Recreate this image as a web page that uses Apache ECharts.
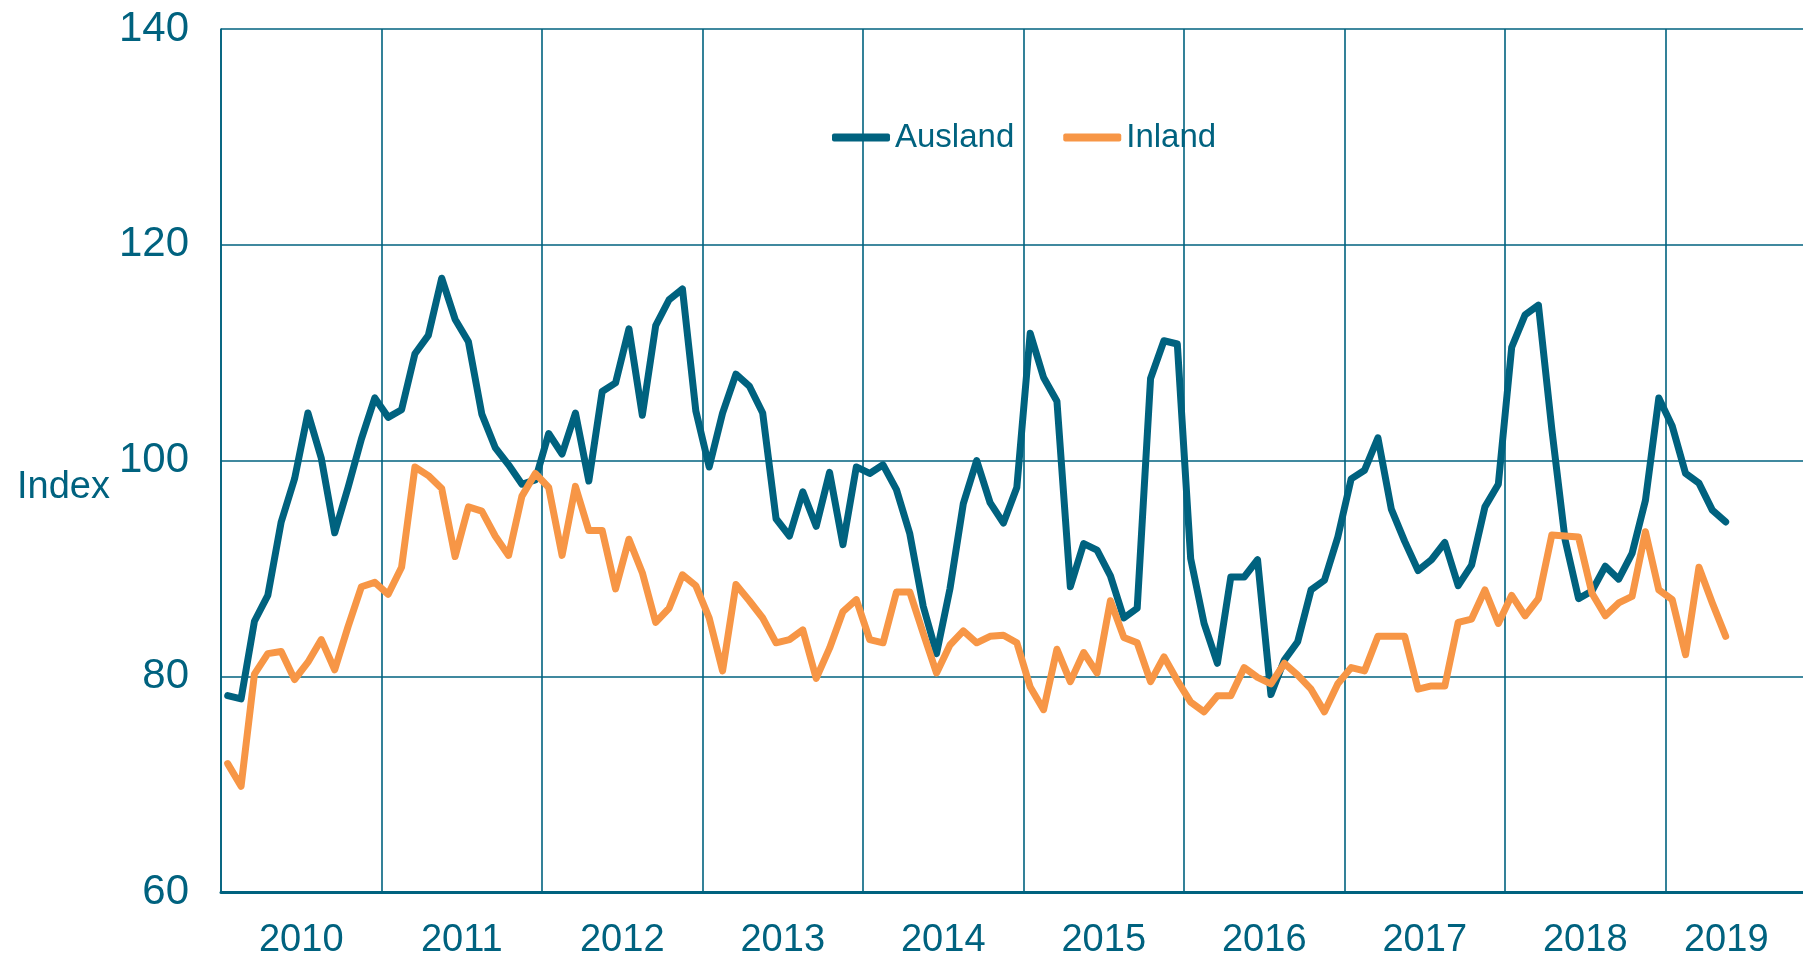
<!DOCTYPE html>
<html>
<head>
<meta charset="utf-8">
<title>Ausland / Inland Index</title>
<script src="https://cdn.jsdelivr.net/npm/echarts@6/dist/echarts.min.js"></script>
<style>
  html, body { margin: 0; padding: 0; background: #fff; }
  #myChart { width: 1803px; height: 959px; }
</style>
</head>
<body>
<div id="myChart"></div>
<script>
// Jahre (Achsenbeschriftung)
var years = ['2010', '2011', '2012', '2013', '2014', '2015', '2016', '2017', '2018', '2019'];

// Monatswerte ab Jan 2010 bis Mai 2019
var ausland = [
  78.2, 77.9, 85.1, 87.5, 94.3, 98.3, 104.4, 100.2, 93.3, 97.5, 102.0, 105.8,
  104.0, 104.7, 109.9, 111.6, 116.9, 113.1, 111.0, 104.3, 101.2, 99.6, 97.8, 98.2,
  102.5, 100.6, 104.4, 98.1, 106.4, 107.2, 112.2, 104.2, 112.5, 114.9, 115.9, 104.6,
  99.4, 104.4, 108.0, 106.9, 104.4, 94.6, 93.0, 97.1, 93.9, 98.9, 92.2, 99.4,
  98.8, 99.6, 97.3, 93.2, 86.5, 82.1, 88.1, 96.0, 100.0, 96.1, 94.2, 97.5,
  111.8, 107.7, 105.5, 88.3, 92.3, 91.7, 89.3, 85.4, 86.3, 107.6, 111.1, 110.8,
  90.9, 84.9, 81.2, 89.2, 89.2, 90.8, 78.3, 81.5, 83.2, 88.0, 88.9, 92.9,
  98.3, 99.1, 102.1, 95.5, 92.5, 89.8, 90.8, 92.4, 88.4, 90.3, 95.7, 97.8,
  110.5, 113.5, 114.4, 102.9, 92.6, 87.2, 87.9, 90.2, 89.0, 91.4, 96.3, 105.8,
  103.2, 98.8, 97.9, 95.4, 94.3
];
var inland = [
  71.9, 69.8, 80.2, 82.1, 82.3, 79.7, 81.3, 83.4, 80.6, 84.6, 88.3, 88.7,
  87.6, 90.1, 99.4, 98.6, 97.4, 91.1, 95.7, 95.3, 93.0, 91.2, 96.7, 98.8,
  97.5, 91.2, 97.6, 93.5, 93.5, 88.1, 92.7, 89.6, 85.0, 86.3, 89.4, 88.4,
  85.4, 80.5, 88.5, 87.0, 85.4, 83.1, 83.4, 84.3, 79.8, 82.6, 86.0, 87.1,
  83.4, 83.1, 87.8, 87.8, 84.0, 80.3, 82.9, 84.2, 83.1, 83.7, 83.8, 83.1,
  79.0, 76.9, 82.5, 79.5, 82.2, 80.3, 87.0, 83.6, 83.1, 79.5, 81.8, 79.6,
  77.6, 76.7, 78.2, 78.2, 80.8, 79.9, 79.3, 81.2, 80.1, 78.8, 76.7, 79.3,
  80.8, 80.5, 83.7, 83.7, 83.7, 78.8, 79.1, 79.1, 85.0, 85.3, 88.0, 84.9,
  87.5, 85.6, 87.2, 93.1, 93.0, 92.9, 87.7, 85.6, 86.8, 87.4, 93.4, 88.0,
  87.1, 82.0, 90.1, 86.8, 83.7
];

// Monatskategorien fuer die Datenachse
var months = [];
years.forEach(function (y) {
  for (var m = 1; m <= 12; m++) {
    months.push(y + '-' + (m < 10 ? '0' + m : m));
  }
});

var teal = '#00627f';
var orange = '#f79646';
var font = "'Liberation Sans', Arial, sans-serif";

var option = {
  animation: false,
  backgroundColor: '#fff',
  textStyle: { fontFamily: font, color: teal },
  legend: {
    data: [
      { name: 'Ausland', icon: 'roundRect' },
      { name: 'Inland', icon: 'roundRect' }
    ],
    left: 827,
    top: 116,
    itemWidth: 58,
    itemHeight: 8,
    itemGap: 49,
    textStyle: { fontFamily: font, fontSize: 33, color: teal }
  },
  // Plot läuft rechts über den Bildrand hinaus (wie im Original abgeschnitten)
  grid: {
    left: 221,
    top: 29,
    bottom: 67,
    right: -23,
    outerBoundsMode: 'none'
  },
  graphic: [
    {
      type: 'text',
      left: 17,
      top: 469,
      style: { text: 'Index', font: '38px ' + font, fill: teal }
    }
  ],
  xAxis: [
    {
      // Datenachse (Monate), unsichtbar
      type: 'category',
      data: months,
      boundaryGap: true,
      show: false
    },
    {
      // Jahresachse mit Gitterlinien
      type: 'category',
      data: years,
      boundaryGap: true,
      position: 'bottom',
      axisLine: { show: true, lineStyle: { color: teal, width: 3 } },
      axisTick: { show: false, interval: 0 },
      axisLabel: {
        interval: 0,
        fontSize: 38,
        color: teal,
        fontFamily: font,
        margin: 30,
        // letztes Jahr sitzt im sichtbaren Teil etwas weiter links
        formatter: function (v) {
          return v === '2019' ? '{last|' + v + '}' : v;
        },
        rich: {
          last: { fontSize: 38, color: teal, fontFamily: font, padding: [0, 39, 0, 0] }
        }
      },
      splitLine: { show: true, interval: 0, lineStyle: { color: teal, width: 1.6 } }
    }
  ],
  yAxis: {
    type: 'value',
    min: 60,
    max: 140,
    interval: 20,
    axisLine: { show: true, lineStyle: { color: teal, width: 1.6 } },
    axisTick: { show: false },
    axisLabel: { fontSize: 42, color: teal, fontFamily: font, margin: 32 },
    splitLine: { show: true, lineStyle: { color: teal, width: 1.6 } }
  },
  series: [
    {
      name: 'Ausland',
      type: 'line',
      xAxisIndex: 0,
      data: ausland,
      symbol: 'none',
      color: teal,
      lineStyle: { color: teal, width: 7, cap: 'round', join: 'round' }
    },
    {
      name: 'Inland',
      type: 'line',
      xAxisIndex: 0,
      data: inland,
      symbol: 'none',
      color: orange,
      lineStyle: { color: orange, width: 7, cap: 'round', join: 'round' }
    }
  ]
};

var myChart = echarts.init(document.getElementById('myChart'));
myChart.setOption(option);
</script>
</body>
</html>
